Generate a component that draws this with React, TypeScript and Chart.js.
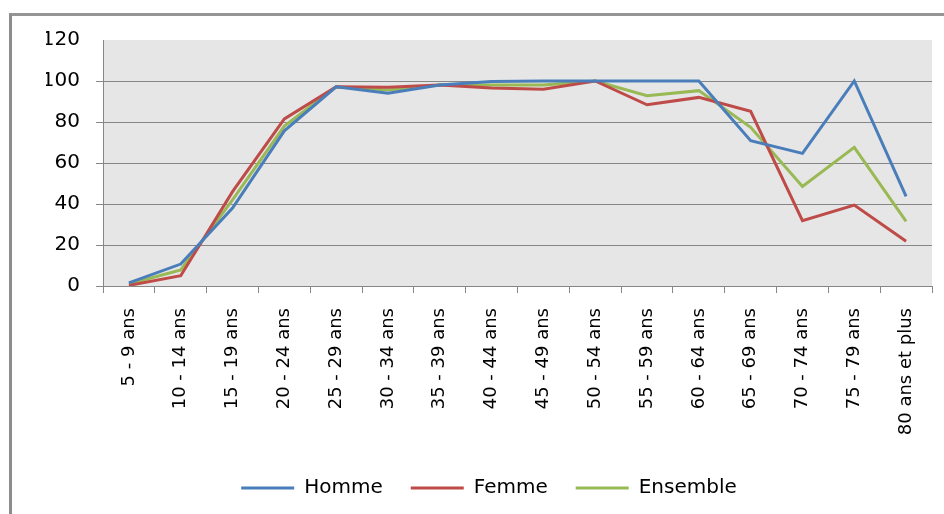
import React, { useEffect, useRef } from "react";
import { Chart, registerables } from "chart.js";

Chart.register(...registerables);

const categories = [
  "5 - 9 ans", "10 - 14 ans", "15 - 19 ans", "20 - 24 ans", "25 - 29 ans",
  "30 - 34 ans", "35 - 39 ans", "40 - 44 ans", "45 - 49 ans", "50 - 54 ans",
  "55 - 59 ans", "60 - 64 ans", "65 - 69 ans", "70 - 74 ans", "75 - 79 ans",
  "80 ans et plus",
];

const homme = [1.5, 10.7, 38, 75.7, 97.2, 94, 98, 99.8, 100, 100, 100, 100, 70.9, 64.7, 100, 43.7];
const femme = [0.3, 5, 46, 81.5, 97.2, 97, 98, 96.6, 96, 100, 88.4, 92, 85.2, 31.9, 39.5, 21.8];
const ensemble = [1, 7.8, 42, 78, 97.2, 95.6, 98, 98, 98, 100, 92.8, 95.3, 77.4, 48.6, 67.6, 31.5];

const seriesNames = ["Homme", "Femme", "Ensemble"];
const seriesColors = ["#4A7EBB", "#BE4B48", "#98B954"];

const plotBg = {
  id: "plotBg",
  beforeDraw(chart: any) {
    const { ctx, chartArea } = chart;
    ctx.save();
    ctx.fillStyle = "#E6E6E6";
    ctx.fillRect(chartArea.left, chartArea.top, chartArea.right - chartArea.left, chartArea.bottom - chartArea.top);
    ctx.restore();
  },
};

export default function App() {
  const ref = useRef<HTMLCanvasElement>(null);
  useEffect(() => {
    if (!ref.current) return;
    const values = [homme, femme, ensemble];
    const chart = new Chart(ref.current, {
      type: "line",
      data: {
        labels: categories,
        datasets: seriesNames.map((n, i) => ({
          label: n,
          data: values[i],
          borderColor: seriesColors[i],
          backgroundColor: seriesColors[i],
          borderWidth: 3,
          pointRadius: 0,
          tension: 0,
          fill: false,
        })),
      },
      options: {
        animation: false,
        responsive: false,
        maintainAspectRatio: false,
        layout: { padding: { left: 46, right: 12, top: 40, bottom: 6 } },
        plugins: {
          tooltip: { enabled: false },
          legend: {
            position: "bottom",
            labels: {
              usePointStyle: true,
              pointStyle: "line",
              pointStyleWidth: 53,
              padding: 28,
              color: "#000",
              font: { family: "DejaVu Sans", size: 20 },
            },
          },
        },
        scales: {
          x: {
            offset: true,
            grid: {
              display: true,
              drawOnChartArea: false,
              offset: true,
              color: "#868686",
              tickLength: 7,
            },
            border: { color: "#868686", width: 1 },
            ticks: {
              autoSkip: false,
              maxRotation: 90,
              minRotation: 90,
              padding: 15,
              color: "#000",
              font: { family: "DejaVu Sans", size: 18 },
            },
            afterFit: (s: any) => { s.height = 164; },
          },
          y: {
            min: 0,
            max: 120,
            ticks: {
              stepSize: 20,
              padding: 16,
              color: "#000",
              font: { family: "DejaVu Sans", size: 20 },
            },
            grid: {
              color: (c: any) => (c.tick && c.tick.value === 120 ? "rgba(0,0,0,0)" : "#868686"),
              tickLength: 7,
            },
            border: { color: "#868686", width: 1 },
            afterFit: (s: any) => { s.width = 57; },
          },
        },
      },
      plugins: [plotBg],
    });
    return () => chart.destroy();
  }, []);
  return (
    <div style={{ position: "absolute", left: 0, top: 0, width: 944, height: 514, background: "#fff", overflow: "hidden" }}>
      <div style={{ position: "absolute", left: 9, top: 13, width: 960, height: 520, borderLeft: "3px solid #8C8C8C", borderTop: "3px solid #959595", boxSizing: "border-box" }} />
      <canvas ref={ref} width={944} height={514} style={{ position: "absolute", left: 0, top: 0, width: 944, height: 514 }} />
    </div>
  );
}
